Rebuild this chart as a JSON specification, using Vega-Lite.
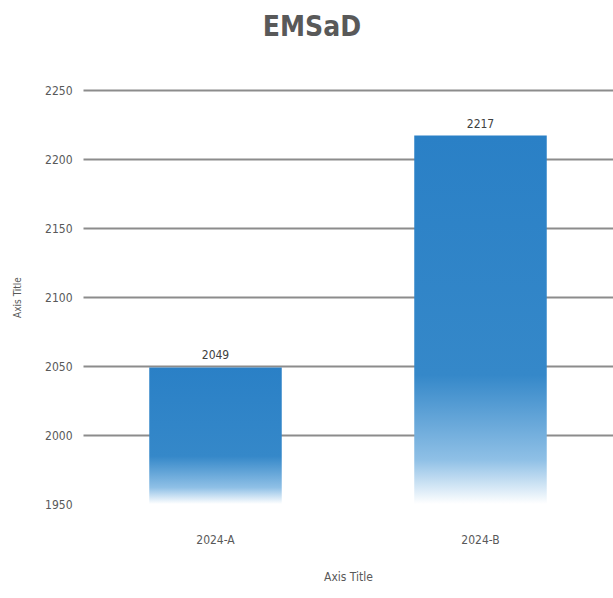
{
  "$schema": "https://vega.github.io/schema/vega-lite/v6.json",
  "autosize": "none",
  "width": 530,
  "height": 414,
  "padding": {"left": 83, "top": 90, "right": 0, "bottom": 94},
  "background": "white",
  "title": {"text": "EMSaD", "fontSize": 28, "font": "DejaVu Sans Condensed", "fontWeight": "bold", "color": "#595959", "offset": 42, "dx": -36, "anchor": "middle"},
  "data": {"values": [{"category": "2024-A", "value": 2049}, {"category": "2024-B", "value": 2217}]},
  "config": {"view": {"stroke": null}, "font": "DejaVu Sans Condensed"},
  "encoding": {
    "x": {"field": "category", "type": "nominal", "scale": {"paddingInner": 0.5, "paddingOuter": 0.25},
      "axis": {"title": "Axis Title", "labelAngle": 0, "domain": false, "ticks": false, "labelPadding": 30, "labelFontSize": 12, "labelColor": "#595959", "titleFontSize": 12, "titleFontWeight": "normal", "titleColor": "#595959", "titlePadding": 26}}
  },
  "layer": [
    {
      "mark": {"type": "bar", "color": {"gradient": "linear", "x1": 0, "y1": 0, "x2": 0, "y2": 1, "stops": [{"offset": 0, "color": "#2a80c6"}, {"offset": 0.65, "color": "#3588c9"}, {"offset": 0.88, "color": "#8fc0e6"}, {"offset": 1, "color": "#ffffff"}]}},
      "encoding": {
        "y": {"field": "value", "type": "quantitative", "scale": {"domain": [1950, 2250], "zero": false, "nice": false},
          "axis": {"title": "Axis Title", "format": "d", "values": [1950, 2000, 2050, 2100, 2150, 2200, 2250], "domain": false, "ticks": false, "labelPadding": 11, "labelFontSize": 12, "labelColor": "#595959", "gridColor": "#8c8c8c", "gridWidth": 2, "gridOpacity": {"condition": {"test": "datum.value === 1950", "value": 0}, "value": 1}, "titleFontSize": 10, "titleFontWeight": "normal", "titleColor": "#595959", "titlePadding": 22}},
        "y2": {"datum": 1950}
      }
    },
    {
      "mark": {"type": "text", "dy": -12, "fontSize": 12, "color": "#404040"},
      "encoding": {
        "y": {"field": "value", "type": "quantitative"},
        "text": {"field": "value", "type": "quantitative"}
      }
    }
  ]
}
